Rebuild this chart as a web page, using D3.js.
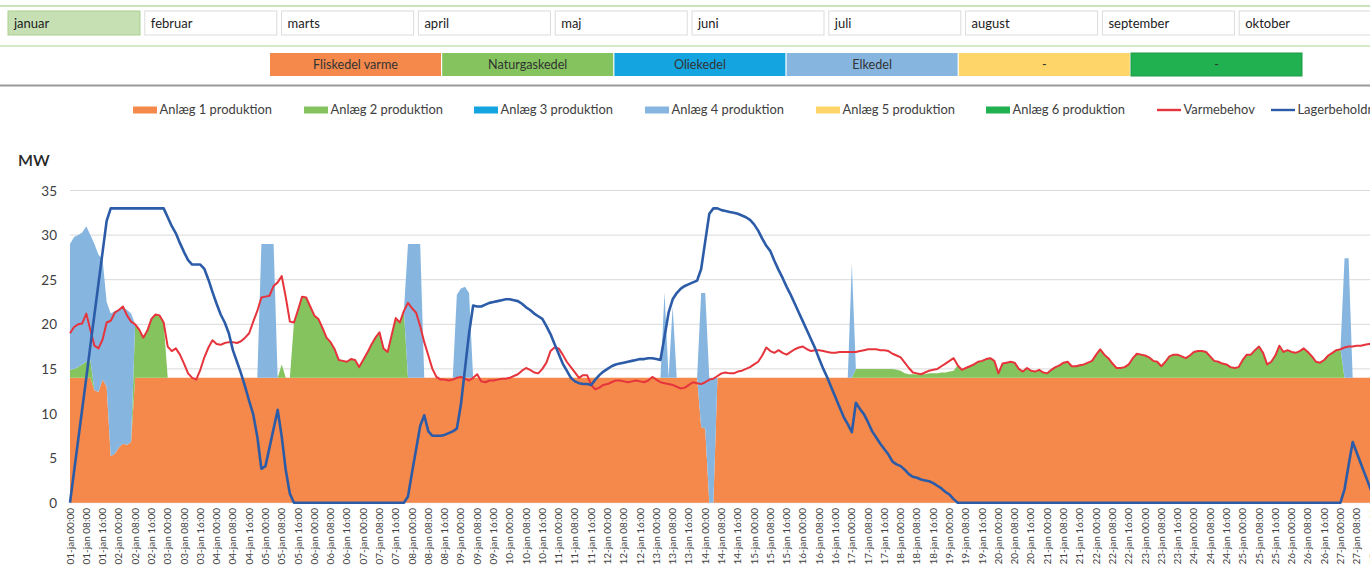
<!DOCTYPE html>
<html>
<head>
<meta charset="utf-8">
<script src="https://cdn.jsdelivr.net/npm/d3@7"></script>
<style>
  body { margin: 0; overflow: hidden; background: #fff; }
  svg { display: block; font-family: Lato, "Open Sans", sans-serif; }
</style>
</head>
<body>
<svg id="chart" width="1370" height="577"></svg>
<script>
// month selector and plant names
const months = ["januar", "februar", "marts", "april", "maj", "juni", "juli", "august", "september", "oktober"];
const plantNames = ["Fliskedel varme", "Naturgaskedel", "Oliekedel", "Elkedel", "-", "-"];
const legendNames = ["Anlæg 1 produktion", "Anlæg 2 produktion", "Anlæg 3 produktion", "Anlæg 4 produktion",
  "Anlæg 5 produktion", "Anlæg 6 produktion", "Varmebehov", "Lagerbeholdning"];
const yTicks = [0, 5, 10, 15, 20, 25, 30, 35];

// one value every 2 hours from 01-jan 00:00, one row per day
const startTime = new Date(2015, 0, 1, 0, 0);
const stepHours = 2;

const anlaeg1 = [
  14, 14, 14, 14, 14, 14, 12.6, 12.4, 13.8, 13, 5.2, 5.5,
  6.2, 6.6, 6.5, 6.8, 14, 14, 14, 14, 14, 14, 14, 14,
  14, 14, 14, 14, 14, 14, 14, 14, 14, 14, 14, 14,
  14, 14, 14, 14, 14, 14, 14, 14, 14, 14, 14, 14,
  14, 14, 14, 14, 14, 14, 14, 14, 14, 14, 14, 14,
  14, 14, 14, 14, 14, 14, 14, 14, 14, 14, 14, 14,
  14, 14, 14, 14, 14, 14, 14, 14, 14, 14, 14, 14,
  14, 14, 14, 14, 14, 14, 14, 14, 14, 14, 14, 14,
  14, 14, 14, 14, 14, 14, 14, 14, 14, 14, 14, 14,
  14, 14, 14, 14, 14, 14, 14, 14, 14, 14, 14, 14,
  14, 14, 14, 14, 14, 14, 14, 14, 14, 14, 14, 14,
  14, 14, 14, 14, 14, 14, 14, 14, 14, 14, 14, 14,
  14, 14, 14, 14, 14, 14, 14, 14, 14, 14, 14, 8.5,
  8.3, 0, 0, 14, 14, 14, 14, 14, 14, 14, 14, 14,
  14, 14, 14, 14, 14, 14, 14, 14, 14, 14, 14, 14,
  14, 14, 14, 14, 14, 14, 14, 14, 14, 14, 14, 14,
  14, 14, 14, 14, 14, 14, 14, 14, 14, 14, 14, 14,
  14, 14, 14, 14, 14, 14, 14, 14, 14, 14, 14, 14,
  14, 14, 14, 14, 14, 14, 14, 14, 14, 14, 14, 14,
  14, 14, 14, 14, 14, 14, 14, 14, 14, 14, 14, 14,
  14, 14, 14, 14, 14, 14, 14, 14, 14, 14, 14, 14,
  14, 14, 14, 14, 14, 14, 14, 14, 14, 14, 14, 14,
  14, 14, 14, 14, 14, 14, 14, 14, 14, 14, 14, 14,
  14, 14, 14, 14, 14, 14, 14, 14, 14, 14, 14, 14,
  14, 14, 14, 14, 14, 14, 14, 14, 14, 14, 14, 14,
  14, 14, 14, 14, 14, 14, 14, 14, 14, 14, 14, 14,
  14, 14, 14, 14, 14, 14, 14, 14, 14, 14, 14, 14
];

const anlaeg2 = [
  0.9, 1.0, 1.2, 1.5, 1.8, 2.0, 0, 0, 0, 0, 0, 0,
  0, 0, 0, 0, 6.0, 5.4, 4.5, 5.3, 6.6, 7.1, 7.0, 6.2,
  0, 0, 0, 0, 0, 0, 0, 0, 0, 0, 0, 0,
  0, 0, 0, 0, 0, 0, 0, 0, 0, 0, 0, 0,
  0, 0, 0, 0, 1.5, 0, 0, 6.2, 7.6, 9.1, 9.0, 8.0,
  7.0, 6.6, 5.6, 4.5, 4.0, 3.2, 2.0, 1.9, 1.8, 2.1, 2.0, 1.2,
  2.0, 2.8, 3.7, 4.5, 5.1, 3.3, 2.9, 4.8, 6.7, 6.2, 7.5, 0,
  0, 0, 0, 0, 0, 0, 0, 0, 0, 0, 0, 0,
  0, 0, 0, 0, 0, 0, 0, 0, 0, 0, 0, 0,
  0, 0, 0, 0, 0, 0, 0, 0, 0, 0, 0, 0,
  0, 0, 0, 0, 0, 0, 0, 0, 0, 0, 0, 0,
  0, 0, 0, 0, 0, 0, 0, 0, 0, 0, 0, 0,
  0, 0, 0, 0, 0, 0, 0, 0, 0, 0, 0, 0,
  0, 0, 0, 0, 0, 0, 0, 0, 0, 0, 0, 0,
  0, 0, 0, 0, 0, 0, 0, 0, 0, 0, 0, 0,
  0, 0, 0, 0, 0, 0, 0, 0, 0, 0, 0, 0,
  0, 1.0, 1.0, 1.0, 1.0, 1.0, 1.0, 1.0, 1.0, 1.0, 1.0, 0.9,
  0.8, 0.5, 0.4, 0.4, 0.4, 0.4, 0.4, 0.5, 0.5, 0.5, 0.6, 0.6,
  0.7, 0.8, 1.4, 0.9, 1.1, 1.3, 1.5, 1.8, 1.9, 2.1, 2.2, 1.9,
  0.5, 1.6, 1.7, 1.8, 1.7, 1.0, 0.7, 1.1, 0.8, 0.7, 0.9, 0.6,
  0.5, 0.9, 1.2, 1.4, 1.7, 1.8, 1.3, 1.3, 1.4, 1.5, 1.7, 1.9,
  2.6, 3.2, 2.6, 2.2, 1.6, 1.1, 1.1, 1.2, 1.5, 2.2, 2.7, 2.6,
  2.5, 2.3, 1.9, 1.8, 1.3, 1.8, 2.4, 2.6, 2.6, 2.4, 2.2, 2.5,
  2.9, 3.0, 3.0, 2.9, 2.4, 1.9, 1.8, 1.6, 1.5, 1.2, 1.1, 1.2,
  2.0, 2.6, 2.6, 3.1, 3.5, 2.8, 1.5, 1.8, 2.5, 3.6, 2.9, 3.1,
  2.9, 2.8, 3.0, 3.3, 2.9, 2.4, 1.8, 1.7, 2.0, 2.5, 2.8, 3.1,
  3.2, 0, 0, 0, 0, 0, 0, 0, 0, 0, 0, 0
];

const anlaeg4 = [
  14.1, 14.8, 14.8, 14.8, 15.2, 14.0, 16.4, 15.4, 13.5, 9.5, 16.0, 16.0,
  15.5, 15.3, 15.1, 14.4, 0, 0, 0, 0, 0, 0, 0, 0,
  0, 0, 0, 0, 0, 0, 0, 0, 0, 0, 0, 0,
  0, 0, 0, 0, 0, 0, 0, 0, 0, 0, 0, 15,
  15, 15, 15, 0, 0, 0, 0, 0, 0, 0, 0, 0,
  0, 0, 0, 0, 0, 0, 0, 0, 0, 0, 0, 0,
  0, 0, 0, 0, 0, 0, 0, 0, 0, 0, 0, 15,
  15, 15, 15, 0, 0, 0, 0, 0, 0, 0, 0, 9.3,
  10.0, 10.2, 9.5, 0, 0, 0, 0, 0, 0, 0, 0, 0,
  0, 0, 0, 0, 0, 0, 0, 0, 0, 0, 0, 0,
  0, 0, 0, 0, 0, 0, 0, 0, 0, 0, 0, 0,
  0, 0, 0, 0, 0, 0, 0, 0, 0, 0, 0, 0,
  0, 0, 9.6, 0, 8.0, 0, 0, 0, 0, 0, 0, 15,
  15.2, 14, 14, 0, 0, 0, 0, 0, 0, 0, 0, 0,
  0, 0, 0, 0, 0, 0, 0, 0, 0, 0, 0, 0,
  0, 0, 0, 0, 0, 0, 0, 0, 0, 0, 0, 0,
  12.8, 0, 0, 0, 0, 0, 0, 0, 0, 0, 0, 0,
  0, 0, 0, 0, 0, 0, 0, 0, 0, 0, 0, 0,
  0, 0, 0, 0, 0, 0, 0, 0, 0, 0, 0, 0,
  0, 0, 0, 0, 0, 0, 0, 0, 0, 0, 0, 0,
  0, 0, 0, 0, 0, 0, 0, 0, 0, 0, 0, 0,
  0, 0, 0, 0, 0, 0, 0, 0, 0, 0, 0, 0,
  0, 0, 0, 0, 0, 0, 0, 0, 0, 0, 0, 0,
  0, 0, 0, 0, 0, 0, 0, 0, 0, 0, 0, 0,
  0, 0, 0, 0, 0, 0, 0, 0, 0, 0, 0, 0,
  0, 0, 0, 0, 0, 0, 0, 0, 0, 0, 0, 0,
  0, 13.4, 13.4, 0, 0, 0, 0, 0, 0, 0, 0, 0
];

const varmebehov = [
  19.0, 19.7, 20.0, 20.1, 21.2, 19.4, 17.6, 17.3, 18.3, 20.2, 20.4, 21.3,
  21.6, 22.0, 21.0, 20.3, 20.0, 19.4, 18.5, 19.3, 20.6, 21.1, 21.0, 20.2,
  17.5, 17.0, 17.3, 16.6, 15.6, 14.5, 14.0, 13.8, 14.9, 16.3, 17.4, 18.2,
  17.8, 17.7, 17.9, 18.0, 18.0, 17.9, 18.1, 18.5, 19.0, 20.3, 21.5, 23.0,
  23.1, 23.2, 24.3, 24.7, 25.4, 23.0, 20.3, 20.2, 21.6, 23.1, 23.0, 22.0,
  21.0, 20.6, 19.6, 18.5, 18.0, 17.2, 16.0, 15.9, 15.8, 16.1, 16.0, 15.2,
  16.0, 16.8, 17.7, 18.5, 19.1, 17.3, 16.9, 18.8, 20.7, 20.2, 21.5, 22.4,
  21.8, 21.3, 19.8, 18.0, 16.5, 15.0, 14.1, 13.8, 13.8, 13.7, 13.8, 14.0,
  14.1, 13.9, 13.7, 14.0, 14.4, 13.6, 13.5, 13.7, 13.7, 13.8, 13.9, 13.9,
  14.0, 14.2, 14.4, 14.8, 15.1, 14.9, 14.6, 14.5, 15.0, 15.7, 17.0, 17.4,
  17.3, 16.6, 15.8, 15.2, 14.6, 14.0, 14.3, 14.3, 13.2, 12.7, 12.9, 13.2,
  13.3, 13.5, 13.7, 13.7, 13.6, 13.5, 13.6, 13.7, 13.6, 13.5, 13.7, 14.1,
  13.8, 13.5, 13.4, 13.3, 13.2, 13.0, 12.8, 12.9, 13.2, 13.5, 13.4, 13.3,
  13.5, 13.8, 13.9, 14.2, 14.5, 14.6, 14.5, 14.5, 14.7, 14.8, 15.0, 15.2,
  15.5, 15.8, 16.5, 17.4, 17.0, 16.8, 17.1, 16.8, 16.6, 16.9, 17.2, 17.4,
  17.5, 17.2, 17.0, 17.1, 17.1, 17.0, 16.9, 16.8, 16.8, 16.9, 16.9, 16.9,
  16.9, 16.9, 17.0, 17.1, 17.2, 17.2, 17.2, 17.1, 17.1, 17.0, 16.7, 16.5,
  16.3, 15.7, 15.1, 14.6, 14.5, 14.4, 14.6, 14.8, 14.9, 15.0, 15.3, 15.6,
  15.9, 16.2, 15.4, 14.9, 15.1, 15.3, 15.5, 15.8, 15.9, 16.1, 16.2, 15.9,
  14.5, 15.6, 15.7, 15.8, 15.7, 15.0, 14.7, 15.1, 14.8, 14.7, 14.9, 14.6,
  14.5, 14.9, 15.2, 15.4, 15.7, 15.8, 15.3, 15.3, 15.4, 15.5, 15.7, 15.9,
  16.6, 17.2, 16.6, 16.2, 15.6, 15.1, 15.1, 15.2, 15.5, 16.2, 16.7, 16.6,
  16.5, 16.3, 15.9, 15.8, 15.3, 15.8, 16.4, 16.6, 16.6, 16.4, 16.2, 16.5,
  16.9, 17.0, 17.0, 16.9, 16.4, 15.9, 15.8, 15.6, 15.5, 15.2, 15.1, 15.2,
  16.0, 16.6, 16.6, 17.1, 17.5, 16.8, 15.5, 15.8, 16.5, 17.6, 16.9, 17.1,
  16.9, 16.8, 17.0, 17.3, 16.9, 16.4, 15.8, 15.7, 16.0, 16.5, 16.8, 17.1,
  17.2, 17.4, 17.5, 17.5, 17.6, 17.6, 17.7, 17.8, 17.8, 17.9, 17.9, 18.0
];

const lagerbeholdning = [
  0, 3.5, 7.0, 10.5, 14.0, 17.6, 21.1, 24.6, 28.1, 31.6, 33, 33,
  33, 33, 33, 33, 33, 33, 33, 33, 33, 33, 33, 33,
  32.0, 31.0, 30.2, 29.1, 28.1, 27.2, 26.7, 26.7, 26.7, 26.2, 25.0, 23.6,
  22.3, 21.1, 20.2, 19.0, 17.1, 15.8, 14.5, 13.0, 11.4, 9.9, 7.4, 3.8,
  4.1, 6.2, 8.3, 10.4, 7.4, 3.6, 1.0, 0, 0, 0, 0, 0,
  0, 0, 0, 0, 0, 0, 0, 0, 0, 0, 0, 0,
  0, 0, 0, 0, 0, 0, 0, 0, 0, 0, 0, 0.7,
  3.4, 6.0, 8.6, 9.8, 8.0, 7.5, 7.5, 7.5, 7.6, 7.8, 8.0, 8.3,
  11.0, 15.0, 19.0, 22.1, 22.0, 22.0, 22.2, 22.4, 22.5, 22.6, 22.7, 22.8,
  22.8, 22.7, 22.6, 22.3, 21.9, 21.6, 21.2, 20.9, 20.6, 19.8, 18.9, 17.8,
  16.7, 15.6, 14.8, 14.0, 13.6, 13.4, 13.3, 13.3, 13.2, 13.8, 14.3, 14.7,
  15.0, 15.3, 15.5, 15.6, 15.7, 15.8, 15.9, 16.0, 16.1, 16.1, 16.2, 16.2,
  16.1, 16.0, 18.6, 21.3, 22.8, 23.5, 24.0, 24.3, 24.5, 24.7, 24.9, 26.2,
  29.3, 32.4, 33.0, 33.0, 32.8, 32.7, 32.6, 32.5, 32.4, 32.2, 32.0, 31.7,
  31.2, 30.5, 29.6, 28.8, 28.2, 27.1, 26.1, 25.2, 24.2, 23.3, 22.3, 21.3,
  20.3, 19.3, 18.3, 17.3, 16.1, 15.0, 14.0, 12.9, 11.8, 10.7, 9.6, 8.8,
  7.9, 11.2, 10.5, 9.9, 9.0, 8.0, 7.3, 6.6, 6.0, 5.4, 4.6, 4.3,
  4.1, 3.7, 3.2, 2.9, 2.8, 2.6, 2.5, 2.4, 2.2, 1.9, 1.6, 1.2,
  0.9, 0.4, 0, 0, 0, 0, 0, 0, 0, 0, 0, 0,
  0, 0, 0, 0, 0, 0, 0, 0, 0, 0, 0, 0,
  0, 0, 0, 0, 0, 0, 0, 0, 0, 0, 0, 0,
  0, 0, 0, 0, 0, 0, 0, 0, 0, 0, 0, 0,
  0, 0, 0, 0, 0, 0, 0, 0, 0, 0, 0, 0,
  0, 0, 0, 0, 0, 0, 0, 0, 0, 0, 0, 0,
  0, 0, 0, 0, 0, 0, 0, 0, 0, 0, 0, 0,
  0, 0, 0, 0, 0, 0, 0, 0, 0, 0, 0, 0,
  0, 1.5, 4.2, 6.8, 5.6, 4.4, 3.2, 2.0, 0.8, 0, 0, 0
];

const plantColors = ["#f4894b", "#84c35e", "#14a5e1", "#86b6e0", "#fdd568", "#22b150"];
const demandColor = "#e6343d";
const storageColor = "#2c5ca8";

const svg = d3.select("#chart");

// ---- top controls ----
svg.append("line").attr("x1", 0).attr("x2", 1370).attr("y1", 6).attr("y2", 6)
  .attr("stroke", "#b8dba0").attr("stroke-width", 1.5);

const buttons = svg.append("g").selectAll("g").data(months).enter().append("g")
  .attr("transform", (d, i) => `translate(${8 + i * 136.8},11)`);
buttons.append("rect")
  .attr("width", 132).attr("height", 24)
  .attr("fill", (d, i) => (i === 0 ? "#c6e0b4" : "#fff"))
  .attr("stroke", (d, i) => (i === 0 ? "#a9d08e" : "#dcdcdc"));
buttons.append("text")
  .attr("x", 6).attr("y", 16.5)
  .attr("font-size", 13).attr("fill", "#222")
  .text((d) => d);

svg.append("line").attr("x1", 0).attr("x2", 1370).attr("y1", 46).attr("y2", 46)
  .attr("stroke", "#c9e3b6").attr("stroke-width", 1.5);

const boxes = svg.append("g").selectAll("g").data(plantNames).enter().append("g")
  .attr("transform", (d, i) => `translate(${270 + i * 172.2},53)`);
boxes.append("rect")
  .attr("width", 171).attr("height", 23)
  .attr("fill", (d, i) => plantColors[i])
  .attr("stroke", (d, i) => (i === 5 ? "#1c9a45" : "none"));
boxes.append("text")
  .attr("x", 85.5).attr("y", 16)
  .attr("text-anchor", "middle")
  .attr("font-size", 12.6).attr("fill", "#333")
  .text((d) => d);

svg.append("line").attr("x1", 0).attr("x2", 1370).attr("y1", 85.5).attr("y2", 85.5)
  .attr("stroke", "#9a9a9a").attr("stroke-width", 2);

// ---- legend ----
const legendX = [133, 304, 474, 645, 816, 986, 1157, 1271];
const legendColors = plantColors.concat([demandColor, storageColor]);
const legend = svg.append("g").selectAll("g").data(legendNames).enter().append("g")
  .attr("transform", (d, i) => `translate(${legendX[i]},110)`);
legend.append("rect")
  .attr("x", 0).attr("y", (d, i) => (i < 6 ? -3.5 : -1.2))
  .attr("width", 24).attr("height", (d, i) => (i < 6 ? 7 : 2.4))
  .attr("fill", (d, i) => legendColors[i]);
legend.append("text")
  .attr("x", 26.5).attr("y", 4.3)
  .attr("font-size", 12.9).attr("fill", "#404040")
  .text((d) => d);

// ---- chart ----
const plotLeft = 70;
const hourWidth = 2.036;
const times = anlaeg1.map((d, i) => d3.timeHour.offset(startTime, i * stepHours));
const endTime = times[times.length - 1];
const totalHours = (endTime - startTime) / 3600000;

const x = d3.scaleTime()
  .domain([startTime, endTime])
  .range([plotLeft, plotLeft + totalHours * hourWidth]);
const y = d3.scaleLinear().domain([0, 35]).range([502.7, 190.5]);

svg.append("text")
  .attr("x", 18).attr("y", 166)
  .attr("font-size", 16).attr("font-weight", 600).attr("fill", "#262626")
  .text("MW");

const grid = svg.append("g");
grid.selectAll("line").data(yTicks).enter().append("line")
  .attr("x1", plotLeft).attr("x2", 1370)
  .attr("y1", (d) => y(d)).attr("y2", (d) => y(d))
  .attr("stroke", "#d9d9d9");
grid.selectAll("text").data(yTicks).enter().append("text")
  .attr("x", 57).attr("y", (d) => y(d))
  .attr("text-anchor", "end").attr("dominant-baseline", "central")
  .attr("font-size", 13.5).attr("fill", "#404040")
  .text((d) => d);

const rows = times.map((t, i) => ({
  time: t,
  a1: anlaeg1[i],
  a2: anlaeg2[i],
  a4: anlaeg4[i],
}));
const keys = ["a1", "a2", "a4"];
const keyColors = { a1: plantColors[0], a2: plantColors[1], a4: plantColors[3] };
const series = d3.stack().keys(keys)(rows);
const area = d3.area()
  .x((d) => x(d.data.time))
  .y0((d) => y(d[0]))
  .y1((d) => y(d[1]));
svg.append("g").selectAll("path").data(series).enter().append("path")
  .attr("fill", (d) => keyColors[d.key])
  .attr("d", area);

const line = d3.line()
  .x((d, i) => x(times[i]))
  .y((d) => y(d));
svg.append("path")
  .attr("fill", "none").attr("stroke", demandColor).attr("stroke-width", 2)
  .attr("stroke-linejoin", "round")
  .attr("d", line(varmebehov));
svg.append("path")
  .attr("fill", "none").attr("stroke", storageColor).attr("stroke-width", 2.6)
  .attr("stroke-linejoin", "round")
  .attr("d", line(lagerbeholdning));

// x axis labels every 8 hours
const da = d3.timeFormatLocale({
  dateTime: "%A den %d %B %Y %X", date: "%d.%m.%Y", time: "%H:%M:%S",
  periods: ["AM", "PM"],
  days: ["søndag", "mandag", "tirsdag", "onsdag", "torsdag", "fredag", "lørdag"],
  shortDays: ["søn", "man", "tir", "ons", "tor", "fre", "lør"],
  months: ["januar", "februar", "marts", "april", "maj", "juni", "juli", "august", "september", "oktober", "november", "december"],
  shortMonths: ["jan", "feb", "mar", "apr", "maj", "jun", "jul", "aug", "sep", "okt", "nov", "dec"],
});
const tickFormat = da.format("%d-%b %H:%M");
const xTicks = d3.timeHour.every(8).range(startTime, endTime);
svg.append("g").selectAll("text").data(xTicks).enter().append("text")
  .attr("transform", (d) => `translate(${x(d) + 3.5},508)rotate(-90)`)
  .attr("text-anchor", "end")
  .attr("font-size", 10).attr("fill", "#404040")
  .text((d) => tickFormat(d));
</script>
</body>
</html>
